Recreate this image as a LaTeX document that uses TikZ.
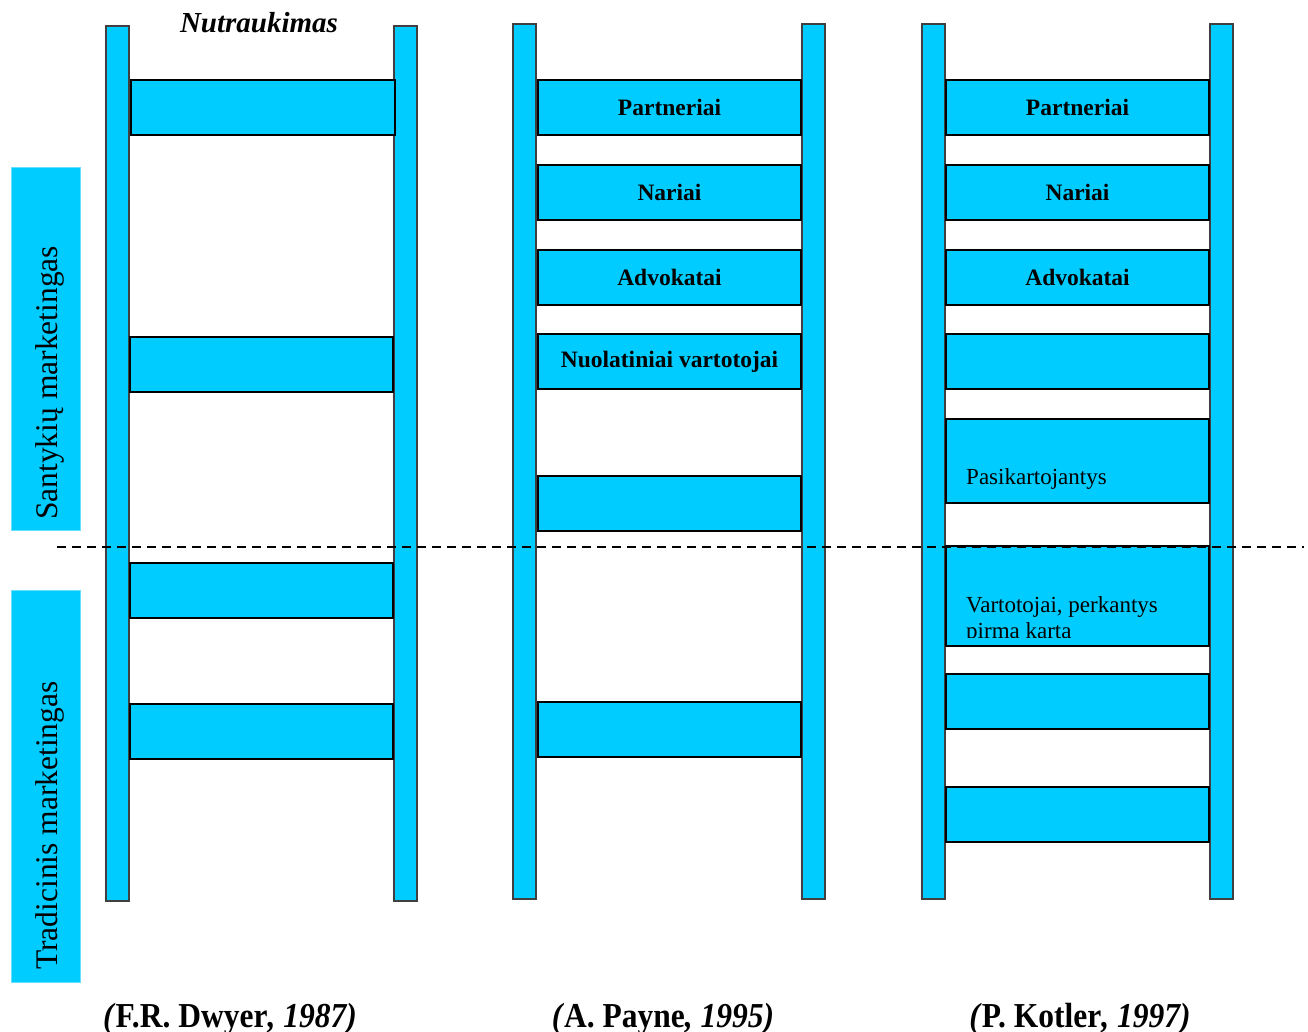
\documentclass[tikz,border=0pt]{standalone}
\usepackage{fontspec}
\setmainfont{Liberation Serif}
\usepackage{graphicx}
\definecolor{ladderblue}{HTML}{00CCFF}
\begin{document}
\begin{tikzpicture}[x=1pt,y=-1pt,
  box/.style={anchor=north west, inner sep=0pt, outer sep=0pt},
  rail/.style={box, draw=black!75, line width=1.3pt, fill=ladderblue, minimum width=23pt, minimum height=875pt},
  rung/.style={box, draw=black, line width=1.7pt, fill=ladderblue, minimum height=55pt},
  rungtext/.style={font=\fontsize{23.5}{26}\selectfont\bfseries},
  plaintext/.style={anchor=base west, inner sep=0pt, font=\fontsize{23}{26}\selectfont},
  sidebar/.style={box, fill=ladderblue, draw=ladderblue!60, line width=0.6pt, minimum width=69pt},
  sidetext/.style={anchor=base west, inner sep=0pt, rotate=90, font=\fontsize{31.5}{34}\selectfont},
  caption/.style={anchor=base, inner sep=0pt, font=\fontsize{35}{38}\selectfont\bfseries},
  divider/.style={line width=1.3pt, dash pattern=on 9pt off 6pt}
]
\useasboundingbox (0,0) rectangle (1308,1032);

% side bands
\node[sidebar, minimum height=363pt] (relband) at (11,167) {};
\node[sidebar, minimum height=392pt] (tradband) at (11,590) {};
\node[sidetext] (reltext) at (57,520) {Santykių marketingas};
\node[sidetext] (tradtext) at (57,970) {Tradicinis marketingas};

% ladder 1: Dwyer
\node[rail] (dL) at (106,26) {};
\node[rail] (dR) at (394,26) {};
\node[rung, minimum width=264pt] (d1) at (131,80) {};
\node[rung, minimum width=263pt] (d2) at (130,337) {};
\node[rung, minimum width=263pt] (d3) at (130,563) {};
\node[rung, minimum width=263pt] (d4) at (130,704) {};
\node[anchor=base, inner sep=0pt, font=\fontsize{29}{32}\selectfont\bfseries\itshape] (dtitle) at (259,33) {Nutraukimas};

% ladder 2: Payne
\node[rail] (pL) at (513,24) {};
\node[rail] (pR) at (802,24) {};
\node[rung, minimum width=263pt, rungtext] (p1) at (538,80) {Partneriai};
\node[rung, minimum width=263pt, rungtext] (p2) at (538,165) {Nariai};
\node[rung, minimum width=263pt, rungtext] (p3) at (538,250) {Advokatai};
\node[rung, minimum width=263pt, rungtext] (p4) at (538,334) {Nuolatiniai vartotojai};
\node[rung, minimum width=263pt] (p5) at (538,476) {};
\node[rung, minimum width=263pt] (p6) at (538,702) {};

% ladder 3: Kotler
\node[rail] (kL) at (922,24) {};
\node[rail] (kR) at (1210,24) {};
\node[rung, minimum width=263pt, rungtext] (k1) at (946,80) {Partneriai};
\node[rung, minimum width=263pt, rungtext] (k2) at (946,165) {Nariai};
\node[rung, minimum width=263pt, rungtext] (k3) at (946,250) {Advokatai};
\node[rung, minimum width=263pt] (k4) at (946,334) {};
\node[rung, minimum width=263pt, minimum height=84pt] (k5) at (946,419) {};
\node[plaintext] (k5text) at (966,484) {Pasikartojantys};
\node[rung, minimum width=263pt, minimum height=100pt] (k6) at (946,546) {};
\begin{scope}
  % the second line is cut off by the box's text area
  \clip (947,548) rectangle (1208,637);
  \node[plaintext, align=left] (k6text) at (966,638) {Vartotojai, perkantys\\pirmą kartą};
\end{scope}
\node[rung, minimum width=263pt] (k7) at (946,674) {};
\node[rung, minimum width=263pt] (k8) at (946,787) {};

% boundary between traditional and relationship marketing
\coordinate (divL) at (57,547);
\coordinate (divR) at (1304,547);
\draw[divider] (divL) -- (divR);

% sources
\node[caption] (cap1) at (230,1027) {\scalebox{0.9}[1]{\textit{(}F.R. Dwyer\textit{, 1987)}}};
\node[caption] (cap2) at (663,1027) {\scalebox{0.9}[1]{\textit{(}A. Payne\textit{, 1995)}}};
\node[caption] (cap3) at (1080,1027) {\scalebox{0.9}[1]{\textit{(}P. Kotler\textit{, 1997)}}};
\end{tikzpicture}
\end{document}
